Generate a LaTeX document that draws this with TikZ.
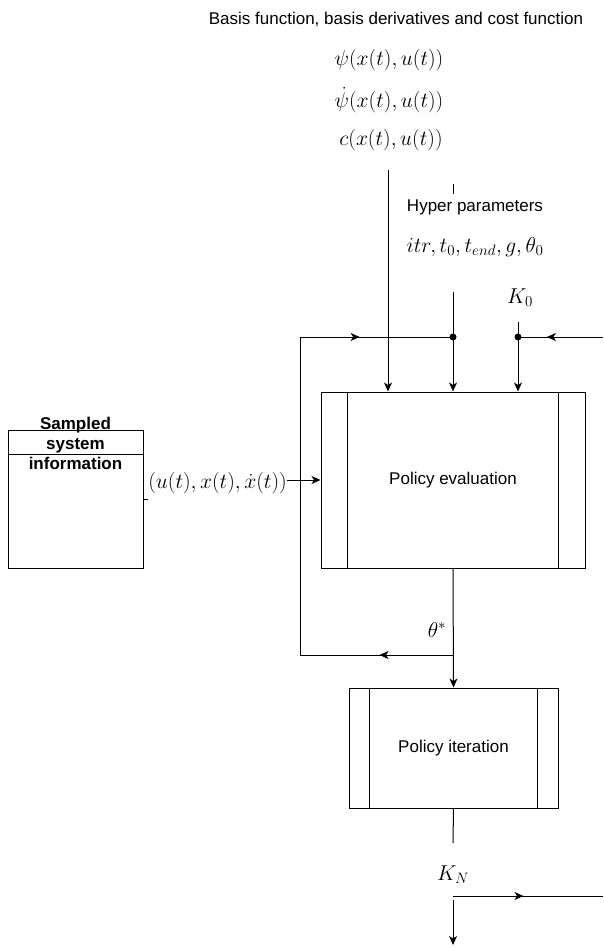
\documentclass[tikz,border=0pt]{standalone}
\usepackage{fix-cm}
\usepackage{fontspec}
\setmainfont{Liberation Sans}
\usetikzlibrary{arrows.meta,decorations.markings}
\tikzset{
  txt/.style={inner sep=0pt, font=\fontsize{17}{20}\selectfont},
  mth/.style={inner sep=0pt, font=\fontsize{21.5}{25}\selectfont},
  ln/.style={line width=1pt, draw=black},
  arr/.style={ln, -{Stealth[length=9pt,width=8pt,inset=2.5pt]}},
  midarrow/.style={ln, postaction={decorate}, decoration={markings,
      mark=at position #1 with {\arrow{Stealth[length=9pt,width=8pt,inset=2.5pt]}}}},
  procbox/.style={ln, rectangle, inner sep=0pt, font=\fontsize{17}{20}\selectfont},
  dotnode/.style={circle, fill=black, inner sep=0pt, minimum size=7pt}
}
\begin{document}
\begin{tikzpicture}[x=1pt,y=-1pt]
\useasboundingbox (0,0) rectangle (603,948);

% top texts
\node[txt] (title) at (396,19) {Basis function, basis derivatives and cost function};
\node[mth] (psi) at (389,60) {$\psi(x(t),u(t))$};
\node[mth] (psid) at (389,100) {$\dot\psi(x(t),u(t))$};
\node[mth] (cost) at (391,140) {$c(x(t),u(t))$};

\node[txt] (hyper) at (475,207) {Hyper parameters};
\node[mth] (hpar) at (475,247) {$itr, t_0, t_{end}, g, \theta_0$};
\node[mth] (k0) at (520,298) {$K_0$};

% boxes
\node[procbox, minimum width=264pt, minimum height=176pt] (pe) at (453,480) {Policy evaluation};
\draw[ln] ([xshift=27pt]pe.north west) -- ([xshift=27pt]pe.south west);
\draw[ln] ([xshift=-27pt]pe.north east) -- ([xshift=-27pt]pe.south east);

\node[procbox, minimum width=209pt, minimum height=120pt] (pi) at (453.5,748) {Policy iteration};
\draw[ln] ([xshift=21pt]pi.north west) -- ([xshift=21pt]pi.south west);
\draw[ln] ([xshift=-21pt]pi.north east) -- ([xshift=-21pt]pi.south east);

\node[ln, rectangle, inner sep=0pt, minimum width=135pt, minimum height=138pt] (ssi) at (75.5,499) {};
\draw[ln] ([yshift=-25pt]ssi.north west) -- ([yshift=-25pt]ssi.north east);
\node[txt, font=\fontsize{17}{20}\selectfont\bfseries, align=center] (ssitext) at (75.5,443) {Sampled\\system\\information};
\draw[ln] (ssi.east) -- ++(4,0);

\node[mth, anchor=east] (inp) at (287,483) {$(u(t),x(t),\dot x(t))$};

% coordinates
\coordinate (basisend) at (388,170);
\coordinate (ht1) at (453,184);
\coordinate (ht2) at (453,194);
\coordinate (hstart) at (453,292);
\coordinate (dotA) at (453,337);
\coordinate (dotB) at (518,337);
\coordinate (kstart) at (518,322);
\coordinate (rin) at (603,337);
\coordinate (loopTL) at (300,337);
\coordinate (loopBL) at (300,655);
\coordinate (loopBR) at (453,655);
\node[mth] (theta) at (437,630) {$\theta^*$};
\coordinate (kn1) at (453,843);
\node[mth] (kn) at (453,875) {$K_N$};
\coordinate (oJ) at (453,896);
\coordinate (oR) at (603,896);
\coordinate (oS) at (453,900);
\coordinate (oE) at (453,945);

% connectors
\draw[arr] (basisend) -- (basisend |- pe.north);
\draw[ln] (ht1) -- (ht2);
\draw[arr] (hstart) -- (hstart |- pe.north);
\draw[arr] (kstart) -- (kstart |- pe.north);
\draw[midarrow=0.66] (rin) -- (dotB);
\draw[midarrow=0.39] (loopTL) -- (dotA);
\draw[ln] (loopBL) -- (loopTL);
\node[dotnode] (dA) at (dotA) {};
\node[dotnode] (dB) at (dotB) {};

\draw[arr] (inp.east |- pe.west) -- (pe.west);

\draw[arr] (pe.south) -- (pi.north);
\draw[midarrow=0.48] (loopBR) -- (loopBL);

\draw[ln] (pi.south) -- (kn1);
\draw[midarrow=0.47] (oJ) -- (oR);
\draw[arr] (oS) -- (oE);
\end{tikzpicture}
\end{document}
